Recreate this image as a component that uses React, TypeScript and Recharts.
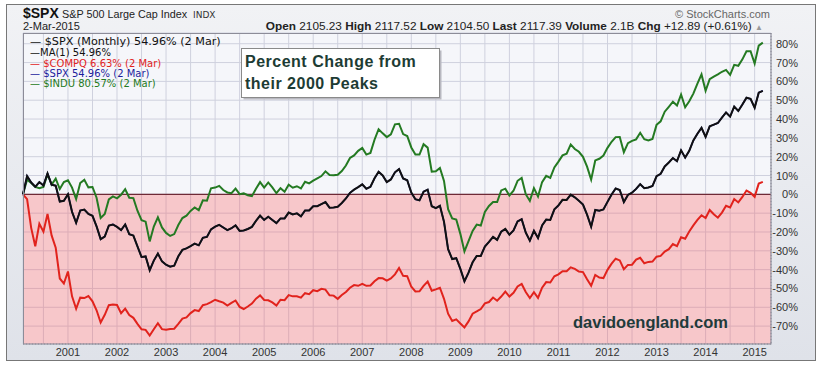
import React from "react";
import { LineChart, Line, XAxis, YAxis, CartesianGrid, ReferenceArea, ReferenceLine } from "recharts";

// % change from the Feb 2000 monthly close, one value per month (Feb 2000 .. 2 Mar 2015)
const spx = [
  0, 9.7, 6.3, 4.0, 6.5, 4.7, 11.1, 5.1, 4.6, -3.8, -3.4,
  0.0, -9.3, -15.1, -8.6, -8.1, -10.4, -11.4, -17.0, -23.8, -22.4, -16.6, -16.0,
  -17.3, -19.0, -16.0, -21.2, -21.9, -27.6, -33.3, -33.0, -40.3, -35.2, -31.5, -35.6,
  -37.4, -38.4, -37.9, -32.9, -29.5, -28.7, -27.5, -26.2, -27.1, -23.1, -22.6, -18.6,
  -17.2, -16.2, -17.6, -19.0, -18.0, -16.5, -19.4, -19.2, -18.4, -17.3, -14.1, -11.3,
  -13.6, -11.9, -13.6, -15.3, -12.8, -12.8, -9.7, -10.7, -10.1, -11.7, -8.6, -8.6,
  -6.3, -6.3, -5.2, -4.1, -7.1, -7.0, -6.6, -4.6, -2.2, 0.8, 2.5, 3.8,
  5.3, 3.0, 4.0, 8.5, 12.0, 10.0, 6.5, 7.9, 11.7, 13.4, 8.4, 7.5,
  0.9, -2.6, -3.2, 1.4, 2.5, -6.3, -7.3, -6.1, -14.6, -29.1, -34.4, -33.9,
  -39.6, -46.2, -41.6, -36.1, -32.7, -32.7, -27.7, -25.3, -22.6, -24.2, -19.8, -18.4,
  -21.4, -19.2, -14.4, -13.2, -20.3, -24.6, -19.4, -23.2, -16.5, -13.4, -13.6, -8.0,
  -5.9, -2.9, -3.0, -0.2, -1.6, -3.4, -5.4, -10.8, -17.2, -8.3, -8.7, -8.0,
  -4.0, -0.1, 3.1, 2.3, -4.1, -0.3, 0.9, 2.9, 5.4, 3.3, 3.6, 4.4,
  9.6, 10.9, 14.8, 16.9, 19.3, 17.6, 23.4, 19.5, 23.1, 28.6, 32.2, 35.3,
  30.5, 36.1, 37.0, 37.9, 40.8, 43.5, 41.3, 46.6, 44.3, 47.7, 51.3, 50.7,
  46.0, 54.0, 55.0,
];

const compq = [
  0, -2.6, -17.8, -27.6, -15.6, -19.8, -10.4, -21.8, -28.3, -44.7, -47.4,
  -41.0, -54.2, -60.8, -54.9, -55.1, -54.0, -56.8, -61.6, -68.1, -64.0, -58.9, -58.5,
  -58.8, -63.1, -60.7, -64.1, -65.6, -68.8, -71.7, -72.0, -75.0, -71.7, -68.5, -71.6,
  -71.9, -71.5, -71.4, -68.8, -66.0, -65.4, -63.1, -61.5, -62.0, -58.9, -58.3, -57.3,
  -56.0, -56.8, -57.5, -59.1, -57.7, -56.4, -59.8, -60.9, -59.6, -58.0, -55.4, -53.7,
  -56.1, -56.3, -57.4, -59.1, -56.0, -56.2, -53.5, -54.2, -54.2, -54.9, -52.5, -53.0,
  -50.9, -51.4, -50.2, -50.6, -53.6, -53.8, -55.5, -53.5, -51.9, -49.6, -48.2, -48.6,
  -47.5, -48.6, -48.4, -46.2, -44.5, -44.6, -45.8, -44.7, -42.5, -39.1, -43.3, -43.5,
  -49.1, -51.6, -51.5, -48.6, -46.3, -51.2, -50.5, -49.6, -55.5, -63.4, -67.3, -66.4,
  -68.6, -70.7, -67.5, -63.4, -62.2, -60.9, -57.9, -57.2, -54.8, -56.5, -54.3, -51.7,
  -54.3, -52.3, -48.9, -47.6, -51.9, -55.1, -52.0, -55.0, -49.6, -46.6, -46.8, -43.5,
  -42.5, -40.8, -40.8, -38.8, -39.6, -41.0, -41.3, -45.1, -48.6, -42.8, -44.2, -44.5,
  -40.1, -36.8, -34.2, -35.1, -39.8, -37.5, -37.4, -34.7, -33.7, -36.6, -35.9, -35.7,
  -33.1, -32.7, -30.4, -29.1, -26.4, -27.5, -22.8, -23.6, -19.7, -16.5, -13.6, -11.1,
  -12.6, -8.3, -10.6, -12.4, -9.7, -6.1, -7.0, -2.5, -4.3, -1.4, 2.0, 0.8,
  -1.3, 5.7, 6.6,
];

const indu = [
  0, 7.8, 6.0, 3.9, 3.2, 3.9, 10.7, 5.2, 8.3, 2.8, 6.5,
  7.5, 3.6, -2.5, 6.0, 7.7, 3.7, 3.9, -1.8, -12.6, -10.4, -2.7, -1.1,
  -2.1, -0.2, 2.7, -1.8, -2.0, -8.7, -13.7, -14.5, -25.0, -17.1, -12.2, -17.6,
  -20.5, -22.1, -21.1, -16.3, -12.6, -11.3, -8.8, -7.0, -8.4, -3.2, -3.4, 3.2,
  3.6, 4.5, 2.3, 1.0, 0.6, 3.0, 0.1, 0.5, -0.5, -1.0, 3.0, 6.5,
  3.6, 6.3, 3.7, 0.6, 3.3, 1.4, 5.1, 3.5, 4.3, 3.1, 6.7, 5.8,
  7.3, 8.5, 9.7, 12.2, 10.3, 10.1, 10.4, 12.4, 15.3, 19.3, 20.7, 23.1,
  24.6, 21.1, 22.0, 29.0, 34.6, 32.4, 30.4, 31.9, 37.2, 37.5, 32.0, 31.0,
  24.9, 21.1, 21.1, 26.6, 24.8, 12.1, 12.3, 14.0, 7.1, -7.9, -12.8, -13.4,
  -21.0, -30.3, -24.9, -19.4, -16.1, -16.6, -9.4, -6.2, -4.1, -4.1, 2.1, 3.0,
  -0.6, 1.9, 7.2, 8.7, 0.1, -3.5, 3.3, -1.1, 6.5, 9.8, 8.7, 14.3,
  17.4, 20.7, 21.6, 26.5, 24.1, 22.6, 19.9, 14.7, 7.8, 18.0, 18.9, 20.6,
  24.7, 27.9, 30.4, 30.5, 22.4, 27.2, 28.4, 29.2, 32.7, 29.3, 28.6, 29.4,
  36.9, 38.8, 43.9, 46.5, 49.2, 47.2, 53.0, 46.2, 49.4, 53.5, 58.8, 63.7,
  55.0, 61.2, 62.5, 63.7, 65.1, 66.1, 63.5, 68.8, 68.3, 71.7, 76.0, 76.0,
  69.5, 79.0, 80.6,
];

const yearLabels = [2001, 2002, 2003, 2004, 2005, 2006, 2007, 2008, 2009, 2010, 2011, 2012, 2013, 2014, 2015];
const yTicks = [-70, -60, -50, -40, -30, -20, -10, 0, 10, 20, 30, 40, 50, 60, 70, 80];

// x = months since Feb 2000
const data = spx.map((v, i) => ({ m: i, spx: v, compq: compq[i], indu: indu[i] }));

// grid every half year (Jul / Jan), labels only on January
const xTicks: number[] = [];
for (let m = 5; m <= 182; m += 6) xTicks.push(m);
const janLabel = (m: number) => {
  const y = 2000 + (m + 1) / 12;
  return yearLabels.includes(y) ? String(y) : "";
};

const SANS = "'Liberation Sans', Arial, sans-serif";
const VERD = "'DejaVu Sans', Verdana, sans-serif";

const XTick = (props: any) => {
  const { x, payload } = props;
  const label = janLabel(payload.value);
  if (!label) return null;
  return (
    <text x={x} y={356} textAnchor="middle" fontSize={11} fontFamily={SANS} fill="#333">
      {label}
    </text>
  );
};

const YTick = (props: any) => {
  const { y, payload } = props;
  return (
    <text x={798} y={y + 4} textAnchor="end" fontSize={11} fontFamily={SANS} fill="#333">
      {payload.value}%
    </text>
  );
};

export default function App() {
  return (
    <div style={{ position: "absolute", left: 0, top: 0, width: 822, height: 367, background: "#fff" }}>
      {/* outer frame */}
      <div
        style={{
          position: "absolute", left: 6, top: 4, width: 808, height: 355,
          border: "1px solid #777",
          background: "linear-gradient(#f1f2f5, #dfe2e9)",
        }}
      />

      <div style={{ position: "absolute", left: 0, top: 0 }}>
        <LineChart width={822} height={367} data={data} margin={{ top: 33, right: 0, bottom: 0, left: 23 }}>
          <CartesianGrid stroke="#cfd1de" fill="#f5f6fa" />
          <XAxis
            dataKey="m"
            type="number"
            domain={[0, 183]}
            ticks={xTicks}
            tick={<XTick />}
            tickLine={false}
            axisLine={{ stroke: "#8a8a96", strokeDasharray: "1 2" }}
            height={23}
            interval={0}
          />
          <YAxis
            orientation="right"
            type="number"
            domain={[-79.5, 85.7]}
            ticks={yTicks}
            tick={<YTick />}
            tickLine={false}
            axisLine={{ stroke: "#8a8a96", strokeDasharray: "1 2" }}
            width={51}
            interval={0}
            allowDataOverflow
          />
          <ReferenceArea y1={-79.5} y2={0} fill="#fc595e" fillOpacity={0.3} stroke="none" ifOverflow="hidden" />
          <ReferenceLine y={0} stroke="#6e2a36" strokeWidth={1.2} />
          <Line dataKey="compq" stroke="#e1231d" strokeWidth={2} dot={false} isAnimationActive={false} />
          <Line dataKey="indu" stroke="#247a22" strokeWidth={2} dot={false} isAnimationActive={false} />
          <Line dataKey="spx" stroke="#1c1c9c" strokeWidth={1.6} dot={false} isAnimationActive={false} />
          <Line dataKey="spx" stroke="#111111" strokeWidth={2} dot={false} isAnimationActive={false} />
        </LineChart>
      </div>

      {/* header, legend and annotations */}
      <svg width={822} height={367} style={{ position: "absolute", left: 0, top: 0, pointerEvents: "none" }}>
        <rect x={23.5} y={33.5} width={747.5} height={310.5} fill="none" stroke="#8c8c98" />

        <text x={23} y={18} fontFamily={SANS} fontSize={14} fontWeight="bold" fill="#111">$SPX</text>
        <text x={62} y={18} fontFamily={SANS} fontSize={10.8} fill="#222">S&amp;P 500 Large Cap Index</text>
        <text x={193} y={18} fontFamily={VERD} fontSize={9} fill="#333">INDX</text>
        <text x={23} y={30} fontFamily={SANS} fontSize={11} fill="#222">2-Mar-2015</text>
        <text x={770} y={18} textAnchor="end" fontFamily={SANS} fontSize={11} fill="#666">© StockCharts.com</text>
        <text x={763} y={30} textAnchor="end" fontFamily={SANS} fontSize={11.8} fill="#222">
          <tspan fontWeight="bold">Open</tspan> 2105.23 <tspan fontWeight="bold">High</tspan> 2117.52{" "}
          <tspan fontWeight="bold">Low</tspan> 2104.50 <tspan fontWeight="bold">Last</tspan> 2117.39{" "}
          <tspan fontWeight="bold">Volume</tspan> 2.1B <tspan fontWeight="bold">Chg</tspan> +12.89 (+0.61%){" "}
          <tspan fill="#999" fontSize={8}>▲</tspan>
        </text>

        <text x={30} y={45} fontFamily={VERD} fontSize={11.2} fill="#111">— $SPX (Monthly) 54.96% (2 Mar)</text>
        <text x={30} y={56} fontFamily={VERD} fontSize={10} fill="#111">—MA(1) 54.96%</text>
        <text x={30} y={66.5} fontFamily={VERD} fontSize={10} fill="#e1231d">— $COMPQ 6.63% (2 Mar)</text>
        <text x={30} y={76.5} fontFamily={VERD} fontSize={10} fill="#1c1c9c">— $SPX 54.96% (2 Mar)</text>
        <text x={30} y={86.5} fontFamily={VERD} fontSize={10} fill="#247a22">— $INDU 80.57% (2 Mar)</text>

        <rect x={243.5} y={50.5} width={198} height={49} fill="#b8b8c0" />
        <rect x={241.5} y={48.5} width={198} height={49} fill="#fff" stroke="#8a8a8a" />
        <text x={245} y={67} fontFamily={SANS} fontSize={16} letterSpacing={0.5} fontWeight="bold" fill="#1d3c34">Percent Change from</text>
        <text x={245} y={89} fontFamily={SANS} fontSize={16} letterSpacing={0.5} fontWeight="bold" fill="#1d3c34">their 2000 Peaks</text>

        <text x={573} y={328} fontFamily={SANS} fontSize={16.5} fontWeight="bold" fill="#1f3b3b">davidoengland.com</text>
      </svg>
    </div>
  );
}
